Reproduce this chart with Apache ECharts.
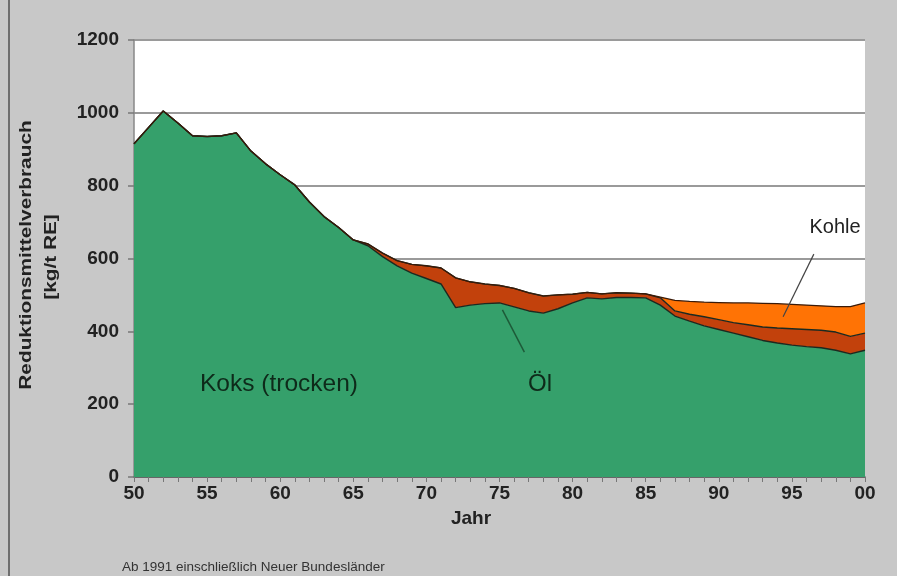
<!DOCTYPE html>
<html>
<head>
<meta charset="utf-8">
<script src="https://cdn.jsdelivr.net/npm/echarts@6/dist/echarts.min.js"></script>
<style>
html,body{margin:0;padding:0;background:#c8c8c8;}
#chart{width:897px;height:576px;}
</style>
</head>
<body>
<div id="chart"></div>
<script>
var years = ['1950','1951','1952','1953','1954','1955','1956','1957','1958','1959',
             '1960','1961','1962','1963','1964','1965','1966','1967','1968','1969',
             '1970','1971','1972','1973','1974','1975','1976','1977','1978','1979',
             '1980','1981','1982','1983','1984','1985','1986','1987','1988','1989',
             '1990','1991','1992','1993','1994','1995','1996','1997','1998','1999',
             '2000'];
var koks = [915,960,1005,972,937,935,937,945,895,860,
            830,802,755,715,685,651,635,605,580,560,
            545,530,465,472,476,478,467,456,450,462,
            478,492,489,493,493,492,472,442,428,415,
            405,395,385,375,368,362,358,355,348,338,
            348];
var oel = [0,0,0,0,0,0,0,0,0,0,
           0,0,0,0,0,0,5,10,14,24,
           35,44,82,64,54,48,51,50,47,38,
           24,15,14,13,12,11,20,14,19,25,
           27,29,33,37,41,45,47,48,50,48,
           47];
var kohle = [0,0,0,0,0,0,0,0,0,0,
             0,0,0,0,0,0,0,0,0,0,
             0,0,0,0,0,0,0,0,0,0,
             0,0,0,0,0,0,2,29,35,40,
             47,54,60,65,67,67,67,67,70,82,
             83];
var yTicks = [0,200,400,600,800,1000,1200];
var xTickLabels = ['50','55','60','65','70','75','80','85','90','95','00'];
// leader lines for annotations, in data space: [yearIndex, value]
var oelLeader = [[25.2,459],[26.7,343]];
var kohleLeader = [[46.5,612],[44.4,440]];

var FONT = 'Liberation Sans, Arial, sans-serif';
var chart = echarts.init(document.getElementById('chart'), null, {renderer:'canvas'});
var outline = {color:'#1c2a20', width:1.4};

var option = {
  backgroundColor:'#c8c8c8',
  animation:false,
  grid:{left:134, right:32, top:40, bottom:99, show:true, backgroundColor:'#ffffff', borderWidth:0},
  xAxis:{
    type:'category', data:years, boundaryGap:false,
    axisLine:{show:true, lineStyle:{color:'#555', width:1.5}},
    axisTick:{show:true, interval:0, length:5, lineStyle:{color:'#777'}},
    splitLine:{show:false},
    axisLabel:{interval:4, margin:7, fontFamily:FONT, fontSize:19, fontWeight:'bold', color:'#222',
      formatter:function(v, i){ return xTickLabels[Math.round(i/5)]; }}
  },
  yAxis:{
    type:'value', min:yTicks[0], max:yTicks[yTicks.length-1], interval:200,
    axisLine:{show:true, lineStyle:{color:'#888', width:1.5}},
    axisTick:{show:true, length:6, lineStyle:{color:'#777', width:1.5}},
    splitLine:{show:true, lineStyle:{color:'#9a9a9a', width:2}},
    axisLabel:{margin:15, fontFamily:FONT, fontSize:19, fontWeight:'bold', color:'#222',
      formatter:function(v){ return String(v); }}
  },
  series:[
    {name:'Koks (trocken)', type:'line', stack:'total', data:koks, symbol:'none',
     lineStyle:outline, areaStyle:{color:'#35a06b', opacity:1}},
    {name:'Öl', type:'line', stack:'total', data:oel, symbol:'none',
     lineStyle:outline, areaStyle:{color:'#c2410c', opacity:1}},
    {name:'Kohle', type:'line', stack:'total', data:kohle, symbol:'none',
     lineStyle:{color:'#3a1a08', width:1.2}, areaStyle:{color:'#ff7305', opacity:1}}
  ]
};
chart.setOption(option);

function px(pt){
  var i0 = Math.floor(pt[0]), f = pt[0]-i0;
  var a = chart.convertToPixel({gridIndex:0}, [i0, pt[1]]);
  var b = chart.convertToPixel({gridIndex:0}, [i0+1, pt[1]]);
  return [a[0]+(b[0]-a[0])*f, a[1]];
}
var o1 = px(oelLeader[0]), o2 = px(oelLeader[1]);
var k1 = px(kohleLeader[0]), k2 = px(kohleLeader[1]);

chart.setOption({
  graphic:[
    {type:'line', shape:{x1:9, y1:0, x2:9, y2:576}, style:{stroke:'#6e6e6e', lineWidth:2}},
    {type:'line', z:100, shape:{x1:o1[0], y1:o1[1], x2:o2[0], y2:o2[1]}, style:{stroke:'#1d5a38', lineWidth:1.5}},
    {type:'line', z:100, shape:{x1:k1[0], y1:k1[1], x2:k2[0], y2:k2[1]}, style:{stroke:'#444', lineWidth:1.2}},
    {type:'text', x:27, y:255, rotation:Math.PI/2, scaleX:1.3,
     style:{text:'Reduktionsmittelverbrauch', font:'bold 16px '+FONT, fill:'#222', textAlign:'center', textVerticalAlign:'middle'}},
    {type:'text', x:52, y:257, rotation:Math.PI/2, scaleX:1.3,
     style:{text:'[kg/t RE]', font:'bold 16px '+FONT, fill:'#222', textAlign:'center', textVerticalAlign:'middle'}},
    {type:'text', x:471, y:519,
     style:{text:'Jahr', font:'bold 19px '+FONT, fill:'#222', textAlign:'center', textVerticalAlign:'middle'}},
    {type:'text', x:122, y:567,
     style:{text:'Ab 1991 einschließlich Neuer Bundesländer', font:'13.5px '+FONT, fill:'#333', textAlign:'left', textVerticalAlign:'middle'}},
    {type:'text', x:200, y:384, z:100,
     style:{text:'Koks (trocken)', font:'24.5px '+FONT, fill:'#0e2a1a', textAlign:'left', textVerticalAlign:'middle'}},
    {type:'text', x:540, y:384, z:100,
     style:{text:'Öl', font:'24px '+FONT, fill:'#0e2a1a', textAlign:'center', textVerticalAlign:'middle'}},
    {type:'text', x:835, y:227, z:100,
     style:{text:'Kohle', font:'20px '+FONT, fill:'#222', textAlign:'center', textVerticalAlign:'middle'}}
  ]
});
</script>
</body>
</html>
